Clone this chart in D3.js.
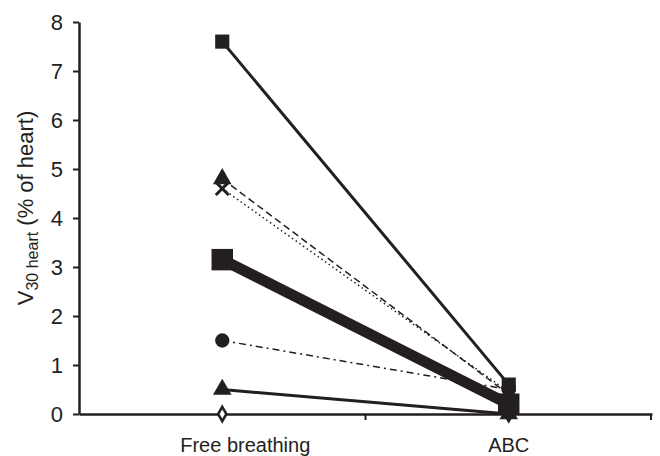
<!DOCTYPE html>
<html>
<head>
<meta charset="utf-8">
<script src="https://cdn.jsdelivr.net/npm/d3@7"></script>
<style>
  body { margin: 0; background: #fff; }
  text { font-family: "Liberation Sans", Arial, sans-serif; fill: #231f20; }
</style>
</head>
<body>
<div id="viz-container"></div>
<script>
// data
const categories = ["Free breathing", "ABC"];
const yTicks = [0, 1, 2, 3, 4, 5, 6, 7, 8];

const seriesSquare = [7.6, 0.6];
const seriesTriangleDash = [4.8, 0.4];
const seriesCrossDot = [4.6, 0.45];
const seriesMean = [3.15, 0.2];
const seriesCircle = [1.5, 0.5];
const seriesTriangle = [0.5, 0];
const seriesDiamond = [0, 0];

const W = 660, H = 456;
const margin = { top: 22, right: 8, bottom: 42, left: 79 };
const ink = "#231f20";

const svg = d3.select("#viz-container")
    .append("svg")
    .attr("width", W)
    .attr("height", H);

const x = d3.scaleBand()
    .domain(categories)
    .range([margin.left, W - margin.right]);

const y = d3.scaleLinear()
    .domain([0, 8])
    .range([H - margin.bottom, margin.top]);

const cx = c => x(c) + x.bandwidth() / 2;

// axes
const yAxis = svg.append("g")
    .attr("transform", `translate(${margin.left},0)`)
    .call(d3.axisLeft(y).tickValues(yTicks).tickSize(6).tickPadding(10).tickSizeOuter(0));
yAxis.select(".domain").attr("stroke", ink).attr("stroke-width", 2.5);
yAxis.selectAll(".tick line").attr("stroke", ink).attr("stroke-width", 2);
yAxis.selectAll(".tick text").attr("font-size", 22).attr("fill", ink);

const xAxis = svg.append("g")
    .attr("transform", `translate(0,${y(0)})`)
    .call(d3.axisBottom(x).tickSize(0).tickPadding(24).tickSizeOuter(0));
xAxis.select(".domain").attr("stroke", ink).attr("stroke-width", 2.5);
xAxis.selectAll(".tick text")
    .attr("font-size", 20)
    .attr("fill", ink)
    .attr("dx", (d, i) => i === 0 ? 23 : 0);

// tick marks at the category boundaries
svg.append("g")
    .selectAll("line")
    .data(categories.slice(1).map(c => x(c)).concat([x.range()[1] - 1]))
    .join("line")
    .attr("x1", d => d).attr("x2", d => d)
    .attr("y1", y(0)).attr("y2", y(0) + 6)
    .attr("stroke", ink)
    .attr("stroke-width", 2);

// y label with subscript
svg.append("text")
    .attr("transform", `translate(33,208) rotate(-90)`)
    .attr("text-anchor", "middle")
    .attr("font-size", 22)
    .call(t => {
        t.append("tspan").text("V");
        t.append("tspan").attr("font-size", 16).attr("dy", 5).text("30 heart");
        t.append("tspan").attr("dy", -5).text(" (% of heart)");
    });

// series
const series = [
    { values: seriesDiamond, width: 0, dash: null, symbol: "diamond" },
    { values: seriesTriangle, width: 3, dash: null, symbol: "triangle" },
    { values: seriesCircle, width: 1.5, dash: "7,4,2,4", symbol: "circle" },
    { values: seriesCrossDot, width: 1.5, dash: "1.5,3", symbol: "times" },
    { values: seriesTriangleDash, width: 1.5, dash: "7,4", symbol: "triangle" },
    { values: seriesSquare, width: 3, dash: null, symbol: "square" },
    { values: seriesMean, width: 11, dash: null, symbol: "bigsquare" }
];

const line = d3.line()
    .x(d => cx(d.cat))
    .y(d => y(d.v));

const symbols = {
    square: d3.symbol(d3.symbolSquare, 200),
    bigsquare: d3.symbol(d3.symbolSquare, 460),
    triangle: d3.symbol(d3.symbolTriangle, 150),
    circle: d3.symbol(d3.symbolCircle, 160),
    times: d3.symbol(d3.symbolTimes, 110),
    diamond: d3.symbol(d3.symbolDiamond, 60)
};

series.forEach(s => {
    const pts = s.values.map((v, i) => ({ cat: categories[i], v }));
    if (s.width > 0) {
        svg.append("path")
            .datum(pts)
            .attr("fill", "none")
            .attr("stroke", ink)
            .attr("stroke-width", s.width)
            .attr("stroke-dasharray", s.dash)
            .attr("d", line);
    }
    svg.append("g")
        .selectAll("path")
        .data(pts)
        .join("path")
        .attr("transform", d => `translate(${cx(d.cat)},${y(d.v)})`)
        .attr("d", symbols[s.symbol])
        .attr("fill", s.symbol === "diamond" ? "#fff" : ink)
        .attr("stroke", ink)
        .attr("stroke-width", s.symbol === "times" ? 3 : (s.symbol === "diamond" ? 2.5 : 0));
});
</script>
</body>
</html>
